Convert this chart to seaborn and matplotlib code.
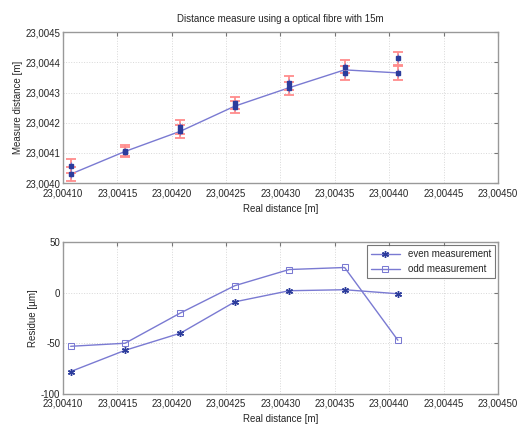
import numpy as np
import pandas as pd
import seaborn as sns
import matplotlib.pyplot as plt
from matplotlib.ticker import MultipleLocator, FuncFormatter

# real distances [m]
real_x = [23.004107, 23.004157, 23.004208, 23.004258, 23.004308, 23.004359, 23.004408]

# measured distances [m] (two measurements per position)
meas_even = [23.004030, 23.004103, 23.004172, 23.004253, 23.004314, 23.004365, 23.004365]
meas_odd = [23.004057, 23.004107, 23.004186, 23.004264, 23.004332, 23.004385, 23.004413]
meas_err = [0.000022, 0.000018, 0.000022, 0.000020, 0.000022, 0.000022, 0.000022]

# line drawn through the top chart
line_x = [23.004107, 23.004157, 23.004208, 23.004258, 23.004308, 23.004359, 23.004359, 23.004408]
line_y = [23.004030, 23.004105, 23.004172, 23.004255, 23.004316, 23.004385, 23.004365, 23.004365]

# residues [um]
res_even = [-78, -57, -40, -9, 2, 3, -1]
res_odd = [-53, -50, -20, 7, 23, 25, -47]

sns.set_style("whitegrid")
plt.rcParams['font.family'] = ['Liberation Sans', 'DejaVu Sans']
plt.rcParams['font.size'] = 7
plt.rcParams['axes.unicode_minus'] = False

line_col = '#7a7ad2'
mark_col = '#2c3c9c'
err_col = '#ff8c8c'
grid_kw = dict(color='#d8d8d8', linestyle=':', linewidth=0.7)

fig = plt.figure(figsize=(5.17, 4.28), dpi=100)
ax1 = fig.add_axes([0.122, 0.572, 0.841, 0.353])
ax2 = fig.add_axes([0.122, 0.080, 0.841, 0.354])


def comma(fmt):
    return FuncFormatter(lambda v, p: (fmt % v).replace('.', ','))


# top chart
sns.lineplot(x=line_x, y=line_y, ax=ax1, color=line_col, linewidth=1.0, sort=False)
for ys in (meas_even, meas_odd):
    ax1.errorbar(real_x, ys, yerr=meas_err, fmt='none', ecolor=err_col,
                 elinewidth=1.3, capsize=3.5, capthick=1.3, zorder=3)
    ax1.errorbar(real_x, ys, yerr=[e * 0.6 for e in meas_err], fmt='s',
                 markersize=3, color=mark_col, ecolor=line_col,
                 elinewidth=0.8, capsize=0, zorder=4)
ax1.set_xlim(23.00410, 23.00450)
ax1.set_ylim(23.0040, 23.0045)
ax1.xaxis.set_major_locator(MultipleLocator(0.00005))
ax1.yaxis.set_major_locator(MultipleLocator(0.0001))
ax1.xaxis.set_major_formatter(comma('%.5f'))
ax1.yaxis.set_major_formatter(comma('%.4f'))
ax1.set_title("Distance measure using a optical fibre with 15m", fontsize=7, pad=7)
ax1.set_xlabel("Real distance [m]", labelpad=4)
ax1.set_ylabel("Measure distance [m]", labelpad=2)

# bottom chart
df = pd.DataFrame({
    'x': real_x * 2,
    'res': res_even + res_odd,
    'serie': ['even measurement'] * 7 + ['odd measurement'] * 7,
})
sns.lineplot(data=df[df.serie == 'even measurement'], x='x', y='res', ax=ax2,
             color=line_col, linewidth=1.0, marker=(6, 2, 0), markersize=5,
             markerfacecolor=mark_col, markeredgecolor=mark_col,
             markeredgewidth=1.0, label='even measurement')
sns.lineplot(data=df[df.serie == 'odd measurement'], x='x', y='res', ax=ax2,
             color=line_col, linewidth=1.0, marker='s', markersize=5,
             markerfacecolor='none', markeredgecolor=line_col,
             label='odd measurement')
ax2.set_xlim(23.00410, 23.00450)
ax2.set_ylim(-100, 50)
ax2.xaxis.set_major_locator(MultipleLocator(0.00005))
ax2.yaxis.set_major_locator(MultipleLocator(50))
ax2.xaxis.set_major_formatter(comma('%.5f'))
ax2.set_xlabel("Real distance [m]", labelpad=4)
ax2.set_ylabel("Residue [\u00b5m]", labelpad=2)
leg = ax2.legend(loc='upper right', fontsize=7, frameon=True, fancybox=False,
                 borderaxespad=0.3, handlelength=3)
leg.get_frame().set_edgecolor('#555555')
leg.get_frame().set_linewidth(0.8)

for ax in (ax1, ax2):
    ax.grid(True, **grid_kw)
    ax.tick_params(axis='both', labelsize=7, length=3, direction='in',
                   color='#777777', top=True, right=True)
    ax.tick_params(axis='x', pad=3.5)
    ax.tick_params(axis='y', pad=2)
    for s in ax.spines.values():
        s.set_edgecolor('#999999')
        s.set_linewidth(1.0)

fig.savefig("out.png", dpi=100)
